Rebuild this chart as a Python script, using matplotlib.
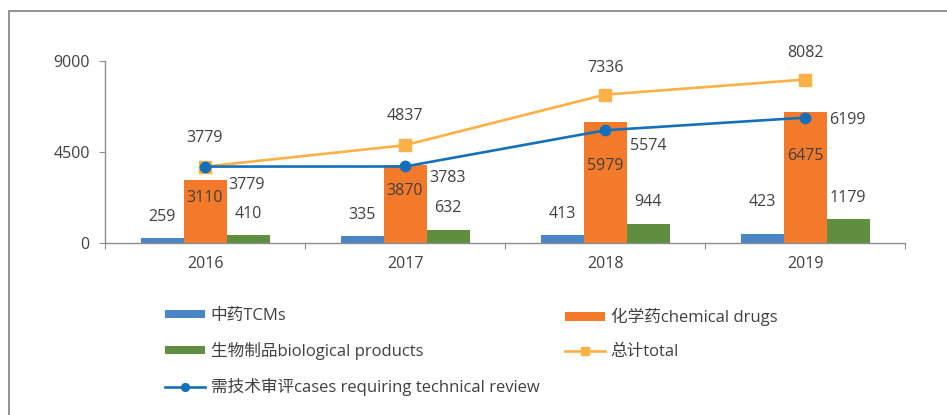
import matplotlib
matplotlib.use("Agg")
import matplotlib.pyplot as plt
import numpy as np
from matplotlib.patches import Rectangle

plt.rcParams['font.family'] = ['Open Sans', 'Noto Sans CJK SC', 'DejaVu Sans']

years = ["2016", "2017", "2018", "2019"]
tcm = [259, 335, 413, 423]
chem = [3110, 3870, 5979, 6475]
bio = [410, 632, 944, 1179]
total = [3779, 4837, 7336, 8082]
review = [3779, 3783, 5574, 6199]

# label offsets in pixels (dx, dy)
tcm_off = [(0, 21), (0, 21), (0, 21), (0, 32)]
bio_off = [(0, 21), (0, 22), (0, 22), (0, 21)]
chem_off = [(0, -18), (0, -26), (0, -44), (0, -44)]
total_off = [(0, 29), (0, 29), (0, 27), (0, 27)]
review_off = [(42, -18), (43, -12), (43, -16), (42, -2)]

c_tcm = '#4A86C6'
c_chem = '#F47A2B'
c_bio = '#5E8E3E'
c_total = '#FDB045'
c_review = '#1570BA'
c_text = '#404040'
c_axis = '#8C8C8C'

fig = plt.figure(figsize=(9.47, 4.15), dpi=100)
ax = fig.add_axes([105/947, 1-243/415, 800/947, 182/415])

x = np.arange(len(years))
w = 0.215
b1 = ax.bar(x - w, tcm, w, color=c_tcm, label="中药TCMs")
b2 = ax.bar(x, chem, w, color=c_chem, label="化学药chemical drugs")
b3 = ax.bar(x + w, bio, w, color=c_bio, label="生物制品biological products")
l1, = ax.plot(x, total, color=c_total, lw=1.9, marker='s', ms=8.5, label="总计total")
l2, = ax.plot(x, review, color=c_review, lw=1.9, marker='o', ms=7.5, label="需技术审评cases requiring technical review")

def put(xs, ys, offs):
    for xi, yi, (dx, dy) in zip(xs, ys, offs):
        ax.annotate(str(yi), (xi, yi), xytext=(dx, dy), textcoords='offset pixels',
                    ha='center', va='center', fontsize=11.5, color=c_text, annotation_clip=False)

put(x - w, tcm, tcm_off)
put(x + w, bio, bio_off)
put(x, chem, chem_off)
put(x, total, total_off)
put(x, review, review_off)

ax.set_xlim(-0.5, 3.5)
ax.set_ylim(0, 9000)
ax.set_yticks([0, 4500, 9000])
ax.set_xticks(np.arange(-0.5, 4, 1))
ax.set_xticklabels([])
ax.set_xticks(x, minor=True)
ax.set_xticklabels(years, minor=True)
ax.tick_params(axis='x', which='major', length=4, color=c_axis, direction='out')
ax.tick_params(axis='x', which='minor', length=0, pad=9, labelsize=11.5, labelcolor=c_text)
ax.tick_params(axis='y', length=4, color=c_axis, pad=7, labelsize=11.5, labelcolor=c_text)
for s in ['top', 'right']:
    ax.spines[s].set_visible(False)
for s in ['left', 'bottom']:
    ax.spines[s].set_color(c_axis)
    ax.spines[s].set_linewidth(1.0)

kw = dict(frameon=False, fontsize=12, labelcolor=c_text, handlelength=2.4,
          handleheight=0.42, handletextpad=0.33, labelspacing=1.08, borderpad=0, borderaxespad=0,
          markerscale=0.75)
fig.legend([b1, b3, l2], [b1.get_label(), b3.get_label(), l2.get_label()],
           loc='upper left', bbox_to_anchor=(165/947, 1-308/415), **kw)
fig.legend([b2, l1], [b2.get_label(), l1.get_label()],
           loc='upper left', bbox_to_anchor=(565/947, 1-308/415), **kw)

fig.patches.append(Rectangle((9/947, -0.1), 1.2, 1-11/415+0.1, transform=fig.transFigure,
                             fill=False, edgecolor='#8A8A8A', lw=1.3))

fig.savefig("out.png", dpi=100)
